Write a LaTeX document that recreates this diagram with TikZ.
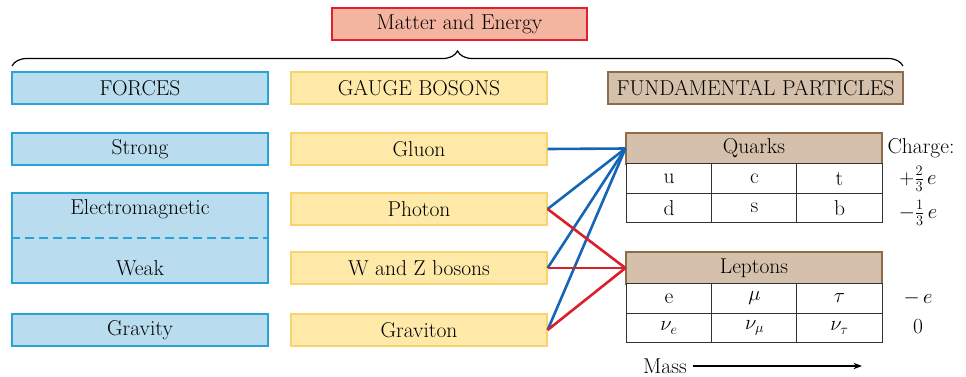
\documentclass[tikz,border=0pt]{standalone}
\usetikzlibrary{arrows.meta,positioning,decorations.pathreplacing}
\definecolor{forcefill}{HTML}{B9DDEE}
\definecolor{forceline}{HTML}{29A3D6}
\definecolor{bosonfill}{HTML}{FEE9A9}
\definecolor{bosonline}{HTML}{F9D46E}
\definecolor{partfill}{HTML}{D5C1AB}
\definecolor{partline}{HTML}{8E6B4B}
\definecolor{energyfill}{HTML}{F3B5A0}
\definecolor{energyline}{HTML}{E0202F}
\definecolor{quarkblue}{HTML}{1565B7}
\definecolor{leptonred}{HTML}{DA1F2A}
\begin{document}
\begin{tikzpicture}[x=1pt,y=-1pt,
 every node/.style={font=\fontsize{21.5}{24}\selectfont,inner sep=0pt},
 box/.style={draw,line width=1.2pt,minimum width=256pt,minimum height=32pt},
 forcebox/.style={box,fill=forcefill,draw=forceline},
 bosonbox/.style={box,fill=bosonfill,draw=bosonline},
 partbox/.style={box,fill=partfill,draw=partline},
 cell/.style={draw=black!80,line width=1pt,fill=white,minimum width=85.33pt,minimum height=29.5pt},
 link/.style={line width=2.6pt},
 >={Stealth[length=3mm]}]
\useasboundingbox (0,0) rectangle (966,376);
% top
\node[box,fill=energyfill,draw=energyline,minimum width=255pt] (energy) at (459.5,24) {Matter and Energy};
\draw[decorate,decoration={brace,amplitude=15pt},line width=1.2pt] (12,66) -- (903,66);
% column heads
\node[forcebox] (forces) at (140,88) {FORCES};
\node[bosonbox] (bosons) at (419,88) {GAUGE BOSONS};
\node[partbox,minimum width=295pt] (particles) at (755.5,88) {FUNDAMENTAL PARTICLES};
% forces
\node[forcebox] (strong) at (140,149) {Strong};
\node[forcebox,minimum height=90pt] (ew) at (140,238) {};
\draw[forceline,line width=1.2pt,dash pattern=on 9pt off 5pt] (ew.west) -- (ew.east);
\node (em) at (140,209) {Electromagnetic};
\node (weak) at (140,268) {Weak};
\node[forcebox] (gravity) at (140,330) {Gravity};
% bosons
\node[bosonbox] (gluon) at (419,149) {Gluon};
\node[bosonbox] (photon) at (419,209) {Photon};
\node[bosonbox] (wz) at (419,268) {W and Z bosons};
\node[bosonbox] (graviton) at (419,330) {Graviton};
% quarks
\node[partbox,minimum height=31pt] (quarks) at (754,148.5) {Quarks};
\node[cell] (u) at (669,178.5) {u};
\node[cell] (c) at (754.5,178.5) {c};
\node[cell] (t) at (839.5,178.5) {t};
\node[cell] (d) at (669,208) {d};
\node[cell] (s) at (754.5,208) {s};
\node[cell] (b) at (839.5,208) {b};
% leptons
\node[partbox] (leptons) at (754,268) {Leptons};
\node[cell] (e) at (669,298.5) {e};
\node[cell] (mu) at (754.5,298.5) {$\mu$};
\node[cell] (tau) at (839.5,298.5) {$\tau$};
\node[cell] (nue) at (669,328) {$\nu_e$};
\node[cell] (numu) at (754.5,328) {$\nu_\mu$};
\node[cell] (nutau) at (839.5,328) {$\nu_\tau$};
% charges
\node (charge) at (921,148) {Charge:};
\node (up) at (918,179) {$+\frac{2}{3}\,e$};
\node (down) at (918,213) {$-\frac{1}{3}\,e$};
\node (lep) at (918,298) {$-\,e$};
\node (neu) at (918,327) {0};
% mass
\node (mass) at (665,366) {Mass};
\coordinate (massend) at (862,366);
\draw[->,line width=1.2pt] (mass.east) ++(6,0) -- (massend);
% links
\draw[link,quarkblue] (gluon.east) -- (quarks.west);
\draw[link,quarkblue] (photon.east) -- (quarks.west);
\draw[link,quarkblue] (wz.east) -- (quarks.west);
\draw[link,quarkblue] (graviton.east) -- (quarks.west);
\draw[link,leptonred] (photon.east) -- (leptons.west);
\draw[link,leptonred] (wz.east) -- (leptons.west);
\draw[link,leptonred] (graviton.east) -- (leptons.west);
\end{tikzpicture}
\end{document}
